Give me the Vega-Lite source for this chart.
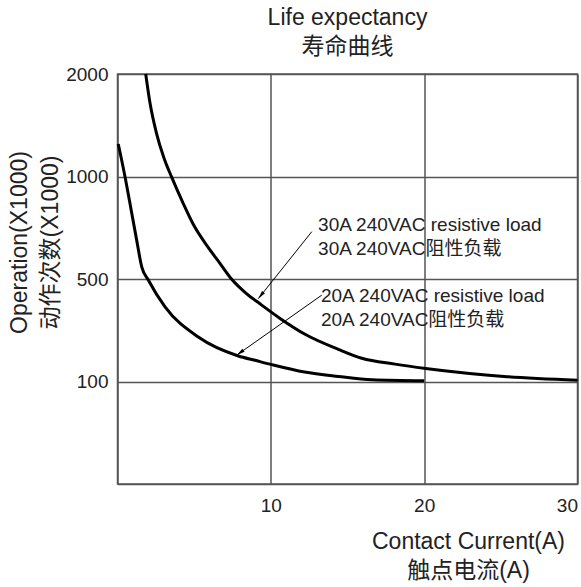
{
  "$schema": "https://vega.github.io/schema/vega-lite/v6.json",
  "width": 460,
  "height": 410,
  "autosize": {"type": "none"},
  "padding": {"left": 117.5, "top": 74, "right": 3.5, "bottom": 103},
  "background": "white",
  "config": {
    "font": "Liberation Sans, Noto Sans CJK SC",
    "view": {"stroke": "#555", "strokeWidth": 1.5},
    "axis": {
      "gridColor": "#555", "gridWidth": 1.5, "gridOpacity": 1,
      "domainColor": "#555", "domainWidth": 1.5,
      "ticks": false,
      "labelFont": "Liberation Sans", "labelFontSize": 19, "labelColor": "#222",
      "titleFont": "Liberation Sans, Noto Sans CJK SC", "titleFontSize": 23,
      "titleFontWeight": "normal", "titleColor": "#222"
    }
  },
  "title": {
    "text": ["Life expectancy", "寿命曲线"],
    "font": "Liberation Sans, Noto Sans CJK SC",
    "fontSize": 23, "fontWeight": "normal", "color": "#222",
    "lineHeight": 29, "offset": 6
  },
  "datasets": {
    "curves": [
      {"series": "30A", "current": 1.84, "ops": 2000},
      {"series": "30A", "current": 2.12, "ops": 1717},
      {"series": "30A", "current": 2.54, "ops": 1425},
      {"series": "30A", "current": 3.03, "ops": 1182},
      {"series": "30A", "current": 3.52, "ops": 1000},
      {"series": "30A", "current": 4.29, "ops": 869},
      {"series": "30A", "current": 4.94, "ops": 768},
      {"series": "30A", "current": 5.82, "ops": 665},
      {"series": "30A", "current": 6.68, "ops": 578},
      {"series": "30A", "current": 7.45, "ops": 500},
      {"series": "30A", "current": 8.43, "ops": 443},
      {"series": "30A", "current": 9.29, "ops": 404},
      {"series": "30A", "current": 10.6, "ops": 347},
      {"series": "30A", "current": 12.23, "ops": 285},
      {"series": "30A", "current": 14.4, "ops": 226},
      {"series": "30A", "current": 15.93, "ops": 191},
      {"series": "30A", "current": 18.1, "ops": 168},
      {"series": "30A", "current": 20.1, "ops": 151},
      {"series": "30A", "current": 25.4, "ops": 119},
      {"series": "30A", "current": 30, "ops": 105},
      {"series": "20A", "current": 0.05, "ops": 1318},
      {"series": "20A", "current": 0.49, "ops": 1000},
      {"series": "20A", "current": 0.93, "ops": 822},
      {"series": "20A", "current": 1.25, "ops": 691},
      {"series": "20A", "current": 1.58, "ops": 561},
      {"series": "20A", "current": 2.01, "ops": 497},
      {"series": "20A", "current": 3.1, "ops": 392},
      {"series": "20A", "current": 5.27, "ops": 274},
      {"series": "20A", "current": 7.88, "ops": 200},
      {"series": "20A", "current": 8.97, "ops": 183},
      {"series": "20A", "current": 10.0, "ops": 167},
      {"series": "20A", "current": 12.2, "ops": 137},
      {"series": "20A", "current": 14.4, "ops": 120},
      {"series": "20A", "current": 16.6, "ops": 107},
      {"series": "20A", "current": 20, "ops": 103}
    ],
    "arrows": [
      {"id": "30A", "current": 9.18, "ops": 424, "current2": 12.67, "ops2": 732},
      {"id": "20A", "current": 7.77, "ops": 203, "current2": 13.32, "ops2": 438}
    ],
    "labels": [
      {"label": "30A 240VAC resistive load\n30A 240VAC阻性负载", "current": 13.08, "ops": 763},
      {"label": "20A 240VAC resistive load\n20A 240VAC阻性负载", "current": 13.27, "ops": 436}
    ]
  },
  "encoding": {
    "x": {
      "field": "current", "type": "quantitative",
      "scale": {"domain": [0, 30], "nice": false, "zero": false},
      "axis": {
        "values": [10, 20, 30], "grid": true, "labelPadding": 12, "labelFlush": true,
        "title": ["Contact Current(A)", "触点电流(A)"],
        "titleX": 350.5, "titleY": 46, "titleBaseline": "top", "titleAlign": "center",
        "titleLineHeight": 29
      }
    },
    "y": {
      "field": "ops", "type": "quantitative",
      "scale": {"domain": [0, 100, 500, 1000, 2000], "range": [410, 307.5, 205.3, 102.7, 0], "nice": false, "zero": false},
      "axis": {
        "values": [100, 500, 1000, 2000], "format": "d", "grid": true, "labelPadding": 9.5, "labelFlush": false,
        "title": ["Operation(X1000)", "动作次数(X1000)"],
        "titleX": -109, "titleY": 168, "titleAngle": 270, "titleBaseline": "top", "titleAlign": "center",
        "titleLineHeight": 31
      }
    }
  },
  "layer": [
    {
      "data": {"name": "curves"},
      "mark": {"type": "line", "color": "black", "strokeWidth": 3, "interpolate": "monotone"},
      "encoding": {"detail": {"field": "series", "type": "nominal"}}
    },
    {
      "data": {"name": "arrows"},
      "mark": {"type": "rule", "color": "black", "strokeWidth": 1},
      "encoding": {
        "x2": {"field": "current2"},
        "y2": {"field": "ops2"}
      }
    },
    {
      "data": {"name": "arrows"},
      "transform": [{"filter": "datum.id === '30A'"}],
      "mark": {"type": "point", "shape": "M0,0L-0.45,2L0.45,2Z", "filled": true, "color": "black", "opacity": 1, "size": 70, "angle": 218.7},
      "encoding": {}
    },
    {
      "data": {"name": "arrows"},
      "transform": [{"filter": "datum.id === '20A'"}],
      "mark": {"type": "point", "shape": "M0,0L-0.45,2L0.45,2Z", "filled": true, "color": "black", "opacity": 1, "size": 70, "angle": 234.6},
      "encoding": {}
    },
    {
      "data": {"name": "labels"},
      "mark": {"type": "text", "align": "left", "baseline": "middle", "lineBreak": "\n", "lineHeight": 24, "fontSize": 19, "color": "#222", "font": "Liberation Sans, Noto Sans CJK SC"},
      "encoding": {"text": {"field": "label", "type": "nominal"}}
    }
  ]
}
